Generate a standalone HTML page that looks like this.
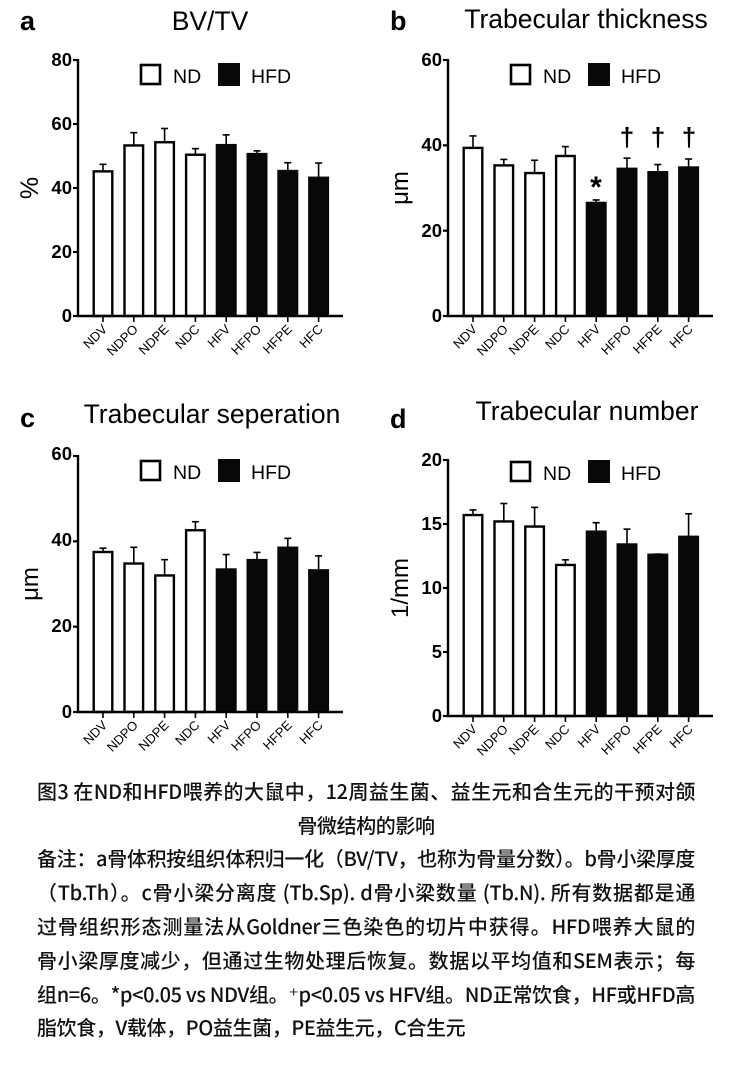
<!DOCTYPE html>
<html><head><meta charset="utf-8"><style>
body{margin:0;background:#fff;width:732px;height:1079px;overflow:hidden;position:relative}
svg{position:absolute;left:0;top:0}
.cap{position:absolute;left:37px;width:658px;font-family:"Noto Sans CJK SC","Liberation Sans",sans-serif;font-size:20px;font-weight:500;color:#111;white-space:nowrap;line-height:24px;text-align:justify;text-align-last:justify;letter-spacing:-0.4px}
</style></head><body>
<svg id="s" width="732" height="770" font-family="Liberation Sans, Arial, sans-serif">
<g id="pa">
<text x="20" y="30" font-size="27" font-weight="bold">a</text>
<text x="210" y="30" font-size="26.5" text-anchor="middle">BV/TV</text>
<g font-size="18.5" font-weight="bold" text-anchor="end"><text x="72" y="66">80</text><text x="72" y="130">60</text><text x="72" y="194">40</text><text x="72" y="258">20</text><text x="72" y="322">0</text></g>
<text transform="translate(38,188) rotate(-90)" font-size="25" text-anchor="middle">%</text>
</g>
<g transform="translate(370,0)">
<text x="20" y="30" font-size="27" font-weight="bold">b</text>
<text x="216" y="28" font-size="26.5" text-anchor="middle">Trabecular thickness</text>
<g font-size="18.5" font-weight="bold" text-anchor="end"><text x="72" y="66">60</text><text x="72" y="151">40</text><text x="72" y="237">20</text><text x="72" y="322">0</text></g>
<text transform="translate(38,188) rotate(-90)" font-size="24" text-anchor="middle">μm</text>
<text x="226" y="197" font-size="30" font-weight="bold" text-anchor="middle">*</text>
<g font-size="26" font-weight="bold" text-anchor="middle"><text x="257" y="146">†</text><text x="288" y="146">†</text><text x="319" y="146">†</text></g>
</g>
<g transform="translate(0,396)">
<text x="20" y="31" font-size="27" font-weight="bold">c</text>
<text x="212" y="27" font-size="26.5" text-anchor="middle">Trabecular seperation</text>
<g font-size="18.5" font-weight="bold" text-anchor="end"><text x="72" y="64">60</text><text x="72" y="150">40</text><text x="72" y="236">20</text><text x="72" y="322">0</text></g>
<text transform="translate(38,188) rotate(-90)" font-size="24" text-anchor="middle">μm</text>
</g>
<g transform="translate(370,400)">
<text x="20" y="28" font-size="27" font-weight="bold">d</text>
<text x="217" y="20" font-size="26.5" text-anchor="middle">Trabecular number</text>
<g font-size="18.5" font-weight="bold" text-anchor="end"><text x="72" y="66">20</text><text x="72" y="130">15</text><text x="72" y="194">10</text><text x="72" y="258">5</text><text x="72" y="322">0</text></g>
<text transform="translate(38,188) rotate(-90)" font-size="24" text-anchor="middle">1/mm</text>
</g>
</svg>
<div class="cap" style="top:779px">图3 在ND和HFD喂养的大鼠中，12周益生菌、益生元和合生元的干预对颌</div>
<div class="cap" style="top:813px;left:0;width:732px;text-align:center;text-align-last:center">骨微结构的影响</div>
<div class="cap" style="top:846px">备注：a骨体积按组织体积归一化（BV/TV，也称为骨量分数）。b骨小梁厚度</div>
<div class="cap" style="top:880px">（Tb.Th）。c骨小梁分离度 (Tb.Sp). d骨小梁数量 (Tb.N). 所有数据都是通</div>
<div class="cap" style="top:914px">过骨组织形态测量法从Goldner三色染色的切片中获得。HFD喂养大鼠的</div>
<div class="cap" style="top:948px">骨小梁厚度减少，但通过生物处理后恢复。数据以平均值和SEM表示；每</div>
<div class="cap" style="top:982px">组n=6。*p&lt;0.05 vs NDV组。⁺p&lt;0.05 vs HFV组。ND正常饮食，HF或HFD高</div>
<div class="cap" style="top:1015px;width:auto;text-align:left;text-align-last:left">脂饮食，V载体，PO益生菌，PE益生元，C合生元</div>
<script>
var NS="http://www.w3.org/2000/svg",s=document.getElementById('s');
function el(t,a,p){var e=document.createElementNS(NS,t);for(var k in a)e.setAttribute(k,a[k]);(p||s).appendChild(e);return e}
var P=[{dx:0,dy:0,max:80,nt:4,v:[[45.2,2.2],[53.3,4],[54.3,4.3],[50.4,1.9],[53.4,3.2],[50.6,1],[45.3,2.6],[43.2,4.6]]},
{dx:370,dy:0,max:60,nt:3,v:[[39.4,2.8],[35.3,1.4],[33.5,3],[37.5,2.2],[26.5,0.7],[34.5,2.5],[33.7,1.8],[34.8,2]]},
{dx:0,dy:396,max:60,nt:3,v:[[37.5,0.9],[34.8,3.8],[32,3.7],[42.6,2],[33.4,3.5],[35.6,1.8],[38.5,2.2],[33.2,3.4]]},
{dx:370,dy:400,max:20,nt:4,v:[[15.7,0.4],[15.2,1.4],[14.8,1.5],[11.8,0.4],[14.4,0.7],[13.4,1.2],[12.6,0.05],[14,1.8]]}];
P.forEach(function(p){
 var g=el('g',{transform:'translate('+p.dx+','+p.dy+')'});
 var y0=316,h=256,sc=h/p.max;
 for(var i=0;i<8;i++){var c=103+i*30.8,v=p.v[i],top=y0-v[0]*sc,et=y0-(v[0]+v[1])*sc;
  el('line',{x1:c,x2:c,y1:top,y2:et,stroke:'#000','stroke-width':1.6},g);
  el('line',{x1:c-3.5,x2:c+3.5,y1:et,y2:et,stroke:'#000','stroke-width':1.6},g);
  if(i<4)el('rect',{x:c-10.5+1.2,y:top,width:21-2.4,height:y0-top,fill:'#fff',stroke:'#000','stroke-width':2.4},g);
  else el('rect',{x:c-10.5,y:top-1.2,width:21,height:y0-top+1.2,fill:'#080808'},g);
  el('line',{x1:c,x2:c,y1:y0,y2:y0+6,stroke:'#000','stroke-width':1.6},g);
 }
 el('line',{x1:78,x2:78,y1:59,y2:317,stroke:'#000','stroke-width':2.4},g);
 el('line',{x1:77,x2:343,y1:316,y2:316,stroke:'#000','stroke-width':2.4},g);
 for(var k=0;k<=p.nt;k++){var yy=60+k*256/p.nt;el('line',{x1:73,x2:78,y1:yy,y2:yy,stroke:'#000','stroke-width':2.2},g)}
 var ly=p.dy==400?-3:0;
 el('rect',{x:141,y:65+ly,width:19,height:19,fill:'#fff',stroke:'#000','stroke-width':2.6},g);
 el('rect',{x:218,y:63+ly,width:22,height:23,fill:'#080808'},g);
 var t=el('text',{x:173,y:83+ly,'font-size':19.5},g);t.textContent='ND';
 t=el('text',{x:251,y:83+ly,'font-size':19.5},g);t.textContent='HFD';
 var n=['NDV','NDPO','NDPE','NDC','HFV','HFPO','HFPE','HFC'];
 for(i=0;i<8;i++){c=103+i*30.8;t=el('text',{transform:'translate('+(c+5)+',330) rotate(-45)','text-anchor':'end','font-size':13},g);t.textContent=n[i];}
});
</script>
</body></html>
